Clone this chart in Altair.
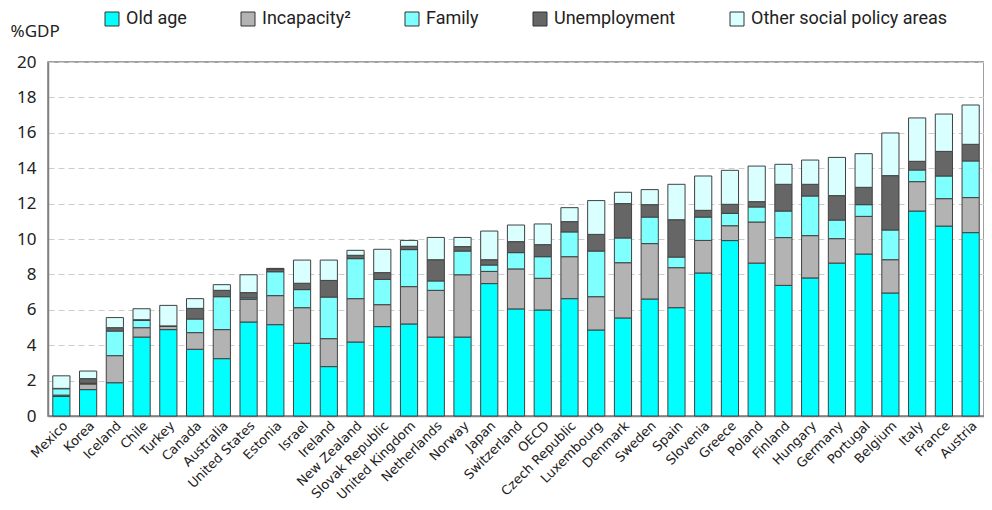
import altair as alt
import pandas as pd

countries = ["Mexico", "Korea", "Iceland", "Chile", "Turkey", "Canada", "Australia",
             "United States", "Estonia", "Israel", "Ireland", "New Zealand",
             "Slovak Republic", "United Kingdom", "Netherlands", "Norway", "Japan",
             "Switzerland", "OECD", "Czech Republic", "Luxembourg", "Denmark", "Sweden",
             "Spain", "Slovenia", "Greece", "Poland", "Finland", "Hungary", "Germany",
             "Portugal", "Belgium", "Italy", "France", "Austria"]

old_age = [1.10, 1.49, 1.88, 4.46, 4.88, 3.77, 3.24, 5.31, 5.16, 4.11, 2.79, 4.18,
           5.05, 5.20, 4.46, 4.46, 7.48, 6.05, 5.99, 6.63, 4.86, 5.54, 6.61,
           6.12, 8.08, 9.91, 8.64, 7.38, 7.80, 8.64, 9.15, 6.95, 11.58, 10.73, 10.36]
incapacity = [0.08, 0.32, 1.53, 0.53, 0.19, 0.94, 1.64, 1.28, 1.64, 2.01, 1.58, 2.45,
              1.24, 2.11, 2.64, 3.52, 0.69, 2.26, 1.79, 2.37, 1.88, 3.12, 3.13,
              2.26, 1.84, 0.84, 2.32, 2.70, 2.39, 1.38, 2.13, 1.88, 1.66, 1.55, 1.98]
family = [0.36, 0.04, 1.39, 0.41, 0.02, 0.77, 1.86, 0.08, 1.35, 1.02, 2.35, 2.26,
          1.43, 2.09, 0.53, 1.34, 0.36, 0.92, 1.22, 1.40, 2.58, 1.40, 1.50,
          0.60, 1.32, 0.70, 0.85, 1.50, 2.24, 1.05, 0.66, 1.68, 0.66, 1.28, 2.07]
unemployment = [0.02, 0.26, 0.19, 0.04, 0.0, 0.60, 0.36, 0.30, 0.16, 0.36, 0.94, 0.19,
                0.38, 0.19, 1.20, 0.25, 0.30, 0.62, 0.68, 0.58, 0.94, 1.94, 0.70,
                2.11, 0.38, 0.51, 0.30, 1.51, 0.66, 1.38, 0.98, 3.07, 0.49, 1.39, 0.94]
other = [0.71, 0.43, 0.57, 0.62, 1.16, 0.55, 0.32, 1.01, 0.03, 1.31, 1.15, 0.28,
         1.32, 0.33, 1.26, 0.52, 1.62, 0.94, 1.17, 0.79, 1.91, 0.64, 0.85,
         2.00, 1.94, 1.92, 2.01, 1.13, 1.37, 2.16, 1.90, 2.41, 2.45, 2.11, 2.22]

categories = ["Old age", "Incapacity\u00b2", "Family", "Unemployment", "Other social policy areas"]
colors = ["#00FFFF", "#B3B3B3", "#80FFFF", "#666666", "#D9FFFF"]
series = [old_age, incapacity, family, unemployment, other]

rows = []
for ci, (cat, vals) in enumerate(zip(categories, series)):
    for country, v in zip(countries, vals):
        rows.append({"country": country, "category": cat, "value": v, "idx": ci})
df = pd.DataFrame(rows)

p_inner = 10 / 28

chart = alt.Chart(df).mark_bar(stroke="#404040", strokeWidth=1).encode(
    x=alt.X("country:N", sort=countries,
            scale=alt.Scale(paddingInner=p_inner, paddingOuter=p_inner / 2),
            axis=alt.Axis(title=None, labelAngle=-45, labelFontSize=13,
                          labelFont="DejaVu Sans", labelColor="#222222",
                          ticks=False, labelPadding=3, domainColor="#808080",
                          domainWidth=1.5)),
    y=alt.Y("value:Q", stack="zero",
            scale=alt.Scale(domain=[0, 20], nice=False),
            axis=alt.Axis(values=list(range(0, 21, 2)), title="%GDP",
                          titleAngle=0, titleAlign="left", titleBaseline="middle",
                          titleX=-38, titleY=-31, titleFontSize=17,
                          titleFontWeight="normal", titleFont="Noto Sans",
                          titleColor="#222222",
                          labelFontSize=17, labelFont="Noto Sans", labelColor="#222222",
                          ticks=False, labelPadding=12,
                          grid=True, gridDash=[6, 4], gridColor="#CCCCCC", gridWidth=1,
                          domainColor="#808080", domainWidth=1.5)),
    color=alt.Color("category:N", sort=categories,
                    scale=alt.Scale(domain=categories, range=colors),
                    legend=alt.Legend(title=None, orient="none", direction="horizontal",
                                      legendX=55, legendY=-52, columns=5,
                                      columnPadding=52, symbolType="square",
                                      symbolSize=196, symbolStrokeColor="#333333",
                                      symbolStrokeWidth=1, symbolOpacity=1,
                                      labelFontSize=18, labelFont="Roboto",
                                      labelLimit=400,
                                      labelColor="#222222", labelOffset=5)),
    order=alt.Order("idx:Q", sort="ascending"),
).properties(
    width=936,
    height=354,
    autosize=alt.AutoSizeParams(type="none"),
    padding={"left": 40, "top": 54, "right": 0, "bottom": 86},
).configure_view(stroke="#808080", strokeWidth=1.5)

chart.save("out.html", embed_options={"renderer": "svg", "actions": False})
